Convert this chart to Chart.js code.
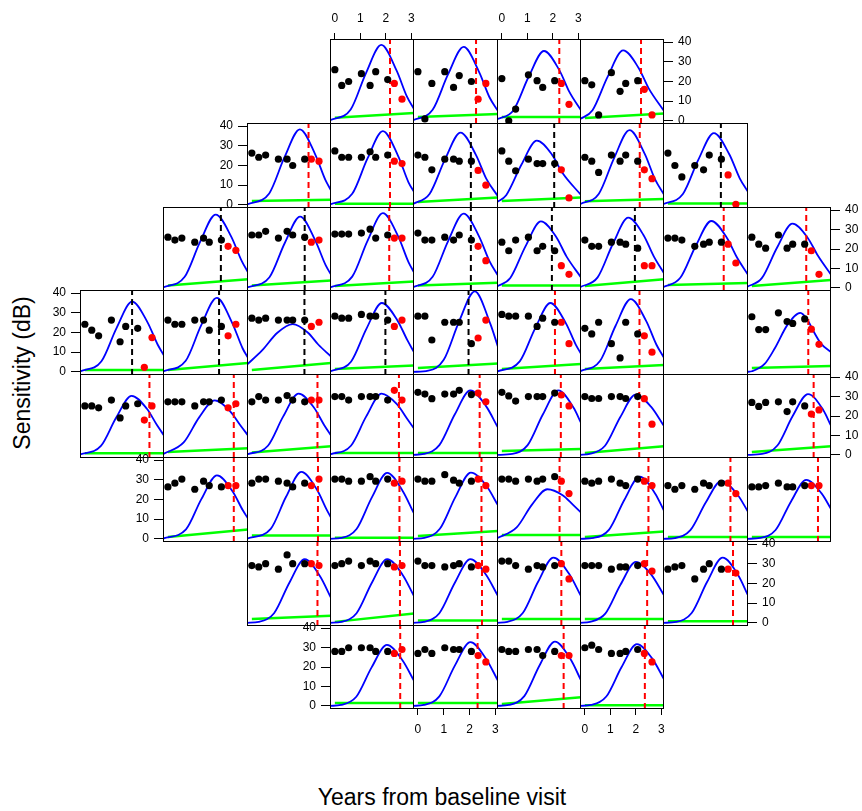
<!DOCTYPE html>
<html>
<head>
<meta charset="utf-8">
<script src="https://cdn.jsdelivr.net/npm/chart.js@4.4.1/dist/chart.umd.min.js"></script>
<style>
  html, body { margin: 0; padding: 0; background: #fff; }
  #wrap { position: relative; width: 862px; height: 811px; overflow: hidden; font-family: "Liberation Sans", Arial, Helvetica, sans-serif; }
  #wrap canvas { position: absolute; }
  .title { position: absolute; font-size: 23px; color: #000; white-space: nowrap; }
  #ylab { left: 22px; top: 373px; transform: translate(-50%, -50%) rotate(-90deg); }
  #xlab { left: 442px; top: 797px; transform: translate(-50%, -50%); }
</style>
</head>
<body>
<div id="wrap">
  <div class="title" id="ylab">Sensitivity (dB)</div>
  <div class="title" id="xlab">Years from baseline visit</div>
</div>
<script>
// visit times (years) - first 7 visits are fitted (black), last 2 held out (red)
const visitYears = [0, 0.27, 0.54, 1.04, 1.38, 1.6, 2.07, 2.33, 2.63];
const xTicks = [0, 1, 2, 3];
const yTicks = [0, 10, 20, 30, 40];

// 24-2 field: filled columns per row
const gridRows = [
    [3, 4, 5, 6],
    [2, 3, 4, 5, 6, 7],
    [1, 2, 3, 4, 5, 6, 7, 8],
    [0, 1, 2, 3, 4, 5, 6, 8],
    [0, 1, 2, 3, 4, 5, 6, 8],
    [1, 2, 3, 4, 5, 6, 7, 8],
    [2, 3, 4, 5, 6, 7],
    [3, 4, 5, 6]
];
// blind spot: empty boxes [row, col]
const emptyCells = [[3, 7], [4, 7]];

// black points (dB), one row per location in reading order
const trainDb = [
    [26, 18, 20, 24, 18, 25, 21], [25, 1, 19, 25, 17, 23, 20], [21.5, 0, 6, 23.4, 20.4, 17, 20.4], [20.4, 18.3, 3, 24.5, 15, 19, 20.4],
    [26.3, 24.2, 25.3, 23.2, 23.2, 20, 23.2], [27.4, 24.2, 24.2, 24.2, 27, 24.2, 25.3], [25.3, 24.2, 17.8, 23.2, 23.2, 22.2, 22.2],
    [27.4, 22.2, 17.3, 23.2, 21, 21, 21], [24.2, 22.2, 16.5, 25.3, 22.2, 25.3, 22.2], [26.3, 20, 14.2, 20, 17.8, 25.3, 23.2],
    [26.1, 24.6, 25.6, 23.5, 25.6, 23.5, 24.6], [27.2, 27.2, 29.1, 25.6, 29.1, 27.2, 26.1], [27.7, 27.7, 27.7, 28.2, 30.2, 25.6, 27.2],
    [28.2, 24.6, 24.6, 26.1, 24.6, 27.2, 24.6], [23.5, 19.1, 24.6, 26.1, 19.1, 21.4, 19.1], [24.6, 21.4, 21.4, 23.5, 23.5, 22.5, 20.4],
    [25.6, 25.6, 24.6, 21.4, 22.5, 23.5, 23.5], [26.1, 22.5, 20.4, 27.2, 20.4, 22.5, 22.5],
    [24.2, 21.2, 18.3, 26.3, 15.3, 23.1, 22.1], [26.3, 24.2, 24.2, 26.3, 26.3, 21.2, 23.1], [27.3, 26.3, 27.3, 26.3, 26.3, 26.3, 26.3],
    [28.3, 27.3, 27.3, 29.2, 28.3, 28.3, 26.3], [28.3, 28.3, 16.2, 25.2, 25.2, 25.2, 14.3], [29.2, 28.3, 28.3, 28.3, 23.1, 27.3, 25.2],
    [22.1, 19.3, 25.2, 14.3, 7.1, 25.2, 19.3], [28, 21.5, 21.5, 30, 25.6, 24.6, 26.9],
    [25.2, 25.2, 24.2, 28.2, 19, 25.2, 26.3], [27.3, 27.3, 27.3, 25.2, 27.3, 27.3, 28.2], [27.3, 30, 28.2, 28.2, 30.5, 28.2, 27.3],
    [30, 30, 28.2, 30, 30, 30, 28.2], [32.2, 31.3, 28.9, 31.3, 31.3, 33.2, 31], [32.2, 30.3, 27.7, 30, 30, 30, 31.8],
    [30, 29, 29, 30, 30, 29, 30], [27, 24.9, 27, 27.3, 22.3, 27.3, 25.2],
    [26.4, 28.3, 30.4, 25.2, 29.3, 27.1, 26.4], [28.3, 30.4, 30.4, 29.3, 28.3, 26.4, 28.3], [30.4, 30.4, 29.3, 29.3, 31.6, 29.3, 30.4],
    [30.4, 29.3, 29.3, 32.6, 29.8, 28.3, 29.3], [30.4, 30.4, 29.3, 30.4, 29.3, 30.4, 31.6], [29.3, 28.3, 29.3, 30.4, 28.3, 27.1, 30.4],
    [27.1, 25.2, 27.1, 25.2, 28.3, 27.1, 28.3], [26.4, 26.4, 27.1, 28.3, 26.4, 26.4, 27.1],
    [29.1, 28.4, 30.1, 27.3, 34.5, 30.1, 30.1], [29.1, 30.1, 31.4, 29.1, 31.4, 30.1, 30.1], [31.4, 29.1, 29.1, 28.4, 29.1, 30.1, 28.4],
    [31.4, 31.4, 29.1, 27.3, 29.1, 28.4, 29.1], [29.1, 29.1, 29.1, 27.3, 28.4, 28.4, 29.1], [27.3, 28.4, 29.1, 22.3, 27.3, 30.1, 27.3],
    [28, 28, 29.9, 29.9, 29.9, 28, 28], [27, 29, 27, 29.9, 29, 29, 28], [29, 28, 28, 29, 29, 25.9, 28], [29.9, 31.2, 29, 27, 27, 28, 29]
];

// red points (held-out visits)
const testDb = [
    [19, 11], [11, 19], [19, 8.4], [16, 3],
    [23.2, 22.2], [22.2, 21], [17.5, 10], [17.8, 3.5], [17.8, 13.3], [15.2, 0.3],
    [21.4, 19.3], [23.5, 24.6], [25.6, 25.6], [21.4, 14], [11.4, 7], [11.4, 11.4], [22.5, 12.8], [19.1, 7],
    [2.3, 17.4], [18.3, 24.2], [23.1, 25.2], [23.1, 26.3], [17.2, 26.3], [25.2, 14.3], [18.3, 10], [21.7, 14],
    [17.9, 25.2], [24.2, 26.3], [28.2, 28.2], [33.2, 28.2], [31.8, 27.3], [30.8, 25.2], [28.9, 15.8], [21, 23.1],
    [27.1, 27.1], [27.1, 30.4], [28.3, 29.3], [30.4, 27.1], [29.3, 23], [29.3, 27.1], [28.3, 23], [27.1, 27.1],
    [30.1, 29.1], [28.4, 29.1], [29.1, 27.3], [30.1, 22.3], [30.1, 26.3], [27.3, 25.3],
    [27, 29], [25.9, 22.6], [25.9, 25.9], [27, 22.6]
];

// dashed vertical line (year) and whether it is drawn red (r) or black (k)
const changeYear = [
    2.16, 2.25, 2.25, 2.2,
    2.22, 2.16, 2.05, 2.05, 2.15, 2.05,
    2.05, 2.07, 2.13, 2.05, 1.96, 1.96, 2.16, 2.13,
    1.85, 1.98, 2.06, 1.98, 1.96, 2.08, 2.14, 2.21,
    2.53, 2.55, 2.57, 2.51, 2.39, 2.31, 2.13, 2.42,
    2.55, 2.59, 2.53, 2.46, 2.26, 2.49, 2.42, 2.59,
    2.57, 2.55, 2.48, 2.33, 2.44, 2.52,
    2.56, 2.31, 2.42, 2.35
];
const changeKind = 'rrrr' + 'rrkkrk' + 'kkrkkkrr' + 'kkkkkrrr' + 'rrrrrrrr' + 'rrrrrrrr' + 'rrrrrr' + 'rrrr';

// green line: value at year 0 and at the right edge
const greenDb = [
    [1.6, 4], [2, 3.5], [1.9, 1.9], [1.5, 3.8],
    [2, 2.6], [0.5, 0.5], [1.5, 3.8], [2, 3.7], [1.8, 3], [0.7, 0.7],
    [1.2, 4.4], [1.2, 3.8], [1, 3.3], [1.2, 2.6], [1.2, 1.2], [1, 4.5], [1.5, 2.5], [1, 4],
    [1, 1], [1, 4.5], [1, 4.5], [1.5, 3.2], [2, 4.3], [1.5, 4], [1.5, 3.5], [2, 3],
    [0.8, 0.8], [1.5, 3.4], [1.2, 4.5], [1, 1], [1, 1], [2, 3], [1, 4.5], [1.5, 4.5],
    [1, 4.8], [1.7, 1.7], [0.6, 0.6], [1.5, 4], [2, 2], [1, 3.8], [1, 1], [1, 1],
    [2, 3.6], [0.5, 4.8], [1.2, 1.2], [2, 2], [2, 2], [0.8, 0.8],
    [1.5, 1.5], [1.5, 1.5], [1, 4.5], [0.3, 0.3]
];

// blue curve, [year, dB] pairs
const blueCurves = [
    [[-0.19, 0.3], [0.62, 5.8], [1.22, 24.3], [1.82, 38.6], [2.42, 25.5], [2.82, 12.4], [3.1, 6]],
    [[-0.19, 0.3], [0.57, 5.6], [1.17, 23.7], [1.77, 37.6], [2.37, 24.8], [2.77, 12], [3.1, 5]],
    [[-0.19, 0.8], [0.45, 5.3], [1.05, 22.4], [1.65, 35.5], [2.25, 25.8], [2.65, 14.6], [3.1, 5.4]],
    [[-0.19, 0.9], [0.3, 5.4], [0.9, 22.6], [1.5, 35.8], [2.1, 27], [2.5, 16.5], [3.1, 5]],
    [[-0.19, 0.2], [0.68, 5.8], [1.28, 24.2], [1.88, 38.4], [2.48, 25.7], [2.88, 12.7], [3.1, 7.4]],
    [[-0.19, 0.2], [0.68, 5.6], [1.28, 23.6], [1.88, 37.5], [2.48, 24.8], [2.88, 11.6], [3.1, 6.6]],
    [[-0.19, 0.4], [0.45, 5.5], [1.05, 23.1], [1.65, 36.7], [2.25, 25.3], [2.65, 13.2], [3.1, 4.3]],
    [[-0.19, 1.4], [0.17, 4.9], [0.77, 20.5], [1.37, 32.6], [1.97, 25.4], [2.37, 16.3], [3.1, 5]],
    [[-0.19, 0.3], [0.55, 5.7], [1.15, 23.9], [1.75, 38], [2.35, 25.8], [2.75, 12.9], [3.1, 5.2]],
    [[-0.19, 0.3], [0.58, 5.5], [1.18, 23], [1.78, 36.5], [2.38, 25.6], [2.78, 13.5], [3.1, 6.6]],
    [[-0.19, 0.2], [0.65, 5.7], [1.25, 23.8], [1.85, 37.7], [2.45, 26.4], [2.85, 14], [3.1, 8]],
    [[-0.19, 0.2], [0.69, 5.5], [1.29, 23.1], [1.89, 36.7], [2.49, 24.2], [2.89, 11.7], [3.1, 6.8]],
    [[-0.19, 0.2], [0.68, 5.8], [1.28, 24.2], [1.88, 38.4], [2.48, 26.5], [2.88, 13.4], [3.1, 8]],
    [[-0.19, 0.3], [0.57, 5.7], [1.17, 24.1], [1.77, 38.2], [2.37, 26.4], [2.77, 13.8], [3.1, 6.3]],
    [[-0.19, 0.7], [0.33, 5.1], [0.93, 21.5], [1.53, 34.2], [2.13, 26.2], [2.53, 16.2], [3.1, 5.4]],
    [[-0.19, 0.35], [0.5, 5.4], [1.1, 22.7], [1.7, 36.1], [2.3, 27.1], [2.7, 16.2], [3.1, 7.5]],
    [[-0.19, 0.35], [0.48, 5.2], [1.08, 21.7], [1.68, 34.4], [2.28, 25.8], [2.68, 15.5], [3.1, 6.8]],
    [[-0.19, 0.5], [0.39, 5], [0.99, 20.8], [1.59, 33], [2.19, 25.7], [2.59, 16.5], [3.1, 6.8]],
    [[-0.19, 0.2], [0.65, 5.4], [1.25, 22.5], [1.85, 35.7], [2.45, 25.3], [2.85, 13.9], [3.1, 8.3]],
    [[-0.19, 0.2], [0.69, 5.6], [1.29, 23.7], [1.89, 37.6], [2.49, 24.8], [2.89, 12], [3.1, 7.1]],
    [[-0.19, 3.7], [0.4, 10.9], [1.0, 19.9], [1.6, 24.3], [2.2, 19.9], [2.6, 13.9], [3.1, 7.8]],
    [[-0.19, 0.2], [0.64, 5.3], [1.24, 22], [1.84, 35], [2.44, 26.4], [2.84, 16.1], [3.1, 10]],
    [[-0.19, 0], [0.4, 0.6], [1.0, 6.1], [1.6, 25.8], [2.2, 40.9], [2.8, 24.5], [3.1, 12.7]],
    [[-0.19, 0.15], [0.7, 5.3], [1.3, 22], [1.9, 35], [2.5, 24.9], [2.9, 13.7], [3.1, 9.2]],
    [[-0.19, 0.25], [0.6, 5.6], [1.2, 23.3], [1.8, 37], [2.4, 25.9], [2.8, 13.9], [3.1, 7.1]],
    [[-0.19, 0], [0, 0.3], [0.5, 4], [0.9, 12], [1.4, 24], [1.9, 30], [2.2, 26], [2.4, 21], [2.7, 14.5], [3.1, 10]],
    [[-0.19, 0.2], [0.63, 4.6], [1.23, 19.2], [1.83, 30.4], [2.43, 23.7], [2.83, 15.2], [3.1, 10]],
    [[-0.19, 0.4], [0.61, 6.4], [1.21, 19.3], [1.81, 28], [2.41, 22.4], [2.81, 15.1], [3.1, 10]],
    [[-0.19, 0.2], [0.63, 4.7], [1.23, 19.8], [1.83, 31.5], [2.43, 24.4], [2.83, 15.4], [3.1, 10]],
    [[-0.19, 0.2], [0.63, 4.7], [1.23, 19.8], [1.83, 31.5], [2.43, 26.1], [2.83, 18.6], [3.1, 13.6]],
    [[-0.19, 0], [0.23, 0.5], [0.83, 5], [1.43, 20.9], [2.03, 33.2], [2.63, 25.2], [3.1, 14]],
    [[-0.19, 0], [0.41, 0.5], [1.01, 5], [1.61, 20.9], [2.21, 33.2], [2.81, 24.2], [3.1, 16.5]],
    [[-0.19, 0], [0.19, 0.5], [0.79, 4.7], [1.39, 19.5], [1.99, 31], [2.59, 24.8], [3.1, 14.8]],
    [[-0.19, 0], [0.4, 0.5], [1.0, 4.8], [1.6, 20], [2.2, 31.3], [2.8, 23], [3.1, 15]],
    [[-0.19, 0.15], [0.7, 4.8], [1.3, 20.3], [1.9, 32.3], [2.5, 24.2], [2.9, 14.5], [3.1, 10.3]],
    [[-0.19, 0.1], [0.74, 5.1], [1.34, 21.4], [1.94, 34], [2.54, 25.2], [2.94, 14.6], [3.1, 10.8]],
    [[-0.19, 0], [0.25, 0.5], [0.85, 5], [1.45, 21.1], [2.05, 33.5], [2.65, 24.5], [3.1, 12.9]],
    [[-0.19, 0], [0.25, 0.5], [0.85, 5.1], [1.45, 21.2], [2.05, 33.7], [2.65, 27], [3.1, 17]],
    [[-0.19, 0.3], [0.58, 5.8], [1.18, 17.4], [1.78, 25.2], [2.38, 22.2], [2.78, 17.4], [3.1, 13.3]],
    [[-0.19, 0], [0.35, 0.5], [0.95, 4.7], [1.55, 19.9], [2.15, 31.6], [2.75, 23.1], [3.1, 14.3]],
    [[-0.19, 0], [0.27, 0.4], [0.87, 4.4], [1.47, 18.6], [2.07, 29.5], [2.67, 22.9], [3.1, 13.8]],
    [[-0.19, 0], [0.33, 0.45], [0.93, 4.5], [1.53, 18.9], [2.13, 30], [2.73, 23.1], [3.1, 15.2]],
    [[-0.19, 0], [0.27, 0.5], [0.87, 4.9], [1.47, 20.4], [2.07, 32.4], [2.67, 23.7], [3.1, 12.7]],
    [[-0.19, 0], [0.25, 0.5], [0.85, 4.9], [1.45, 20.4], [2.05, 32.4], [2.65, 24.5], [3.1, 13.6]],
    [[-0.19, 0], [0.23, 0.5], [0.83, 4.9], [1.43, 20.4], [2.03, 32.4], [2.63, 24.6], [3.1, 13.6]],
    [[-0.19, 0], [0.22, 0.5], [0.82, 5], [1.42, 20.9], [2.02, 33.1], [2.62, 25.2], [3.1, 13.6]],
    [[-0.19, 0], [0.2, 0.5], [0.8, 4.7], [1.4, 19.5], [2.0, 31], [2.6, 24.5], [3.1, 14]],
    [[-0.19, 0], [0.32, 0.5], [0.92, 5], [1.52, 20.9], [2.12, 33.1], [2.72, 24.2], [3.1, 14]],
    [[-0.19, 0], [0.24, 0.5], [0.84, 4.7], [1.44, 19.8], [2.04, 31.4], [2.64, 23.6], [3.1, 12.9]],
    [[-0.19, 0], [0.23, 0.5], [0.83, 4.9], [1.43, 20.7], [2.03, 32.8], [2.63, 24.4], [3.1, 12.9]],
    [[-0.19, 0], [0.28, 0.5], [0.88, 5], [1.48, 20.9], [2.08, 33.1], [2.68, 24.2], [3.1, 13.2]],
    [[-0.19, 0], [0.24, 0.5], [0.84, 4.8], [1.44, 20], [2.04, 31.8], [2.64, 24.3], [3.1, 13.7]]
];

// panel geometry
const X_MIN = -0.19, X_MAX = 3.1, Y_MIN = -1.6, Y_MAX = 41.6;
const Y_AXIS_W = 34, X_AXIS_H = 30, EDGE = 8;
const FONT = { family: '"Liberation Sans", Arial, Helvetica, sans-serif', size: 12 };
const colLeft = c => Math.round(80 + c * 83.33);
const rowTop = r => Math.round(39.3 + r * 83.63);

// draws the box around each panel
const framePlugin = {
    id: 'frame',
    afterDraw(chart) {
        const a = chart.chartArea, ctx = chart.ctx;
        ctx.save();
        ctx.strokeStyle = '#000';
        ctx.lineWidth = 1;
        ctx.strokeRect(a.left + 0.5, a.top + 0.5, a.right - a.left - 1, a.bottom - a.top - 1);
        ctx.restore();
    }
};

function axisOptions(isX, side) {
    const opts = {
        type: 'linear',
        min: isX ? X_MIN : Y_MIN,
        max: isX ? X_MAX : Y_MAX,
        position: side || (isX ? 'bottom' : 'left'),
        display: !!side
    };
    if (side) {
        Object.assign(opts, {
            grid: { display: true, drawOnChartArea: false, drawTicks: true, tickLength: isX ? 6 : 9, color: '#000', tickColor: '#000', lineWidth: 1 },
            border: { display: false },
            ticks: { color: '#000', font: FONT, padding: isX ? 7 : 5, maxRotation: 0, autoSkip: false },
            afterBuildTicks: axis => { axis.ticks = (isX ? xTicks : yTicks).map(v => ({ value: v })); },
            afterFit: axis => {
                if (isX) axis.height = X_AXIS_H; else axis.width = Y_AXIS_W;
                axis.paddingLeft = axis.paddingRight = axis.paddingTop = axis.paddingBottom = 0;
            }
        });
    }
    return opts;
}

// canvas covers the panel plus its axis strip plus a small margin so labels are not clipped
function makeCanvas(row, col, ySide, xSide) {
    const L = colLeft(col), R = colLeft(col + 1), T = rowTop(row), B = rowTop(row + 1);
    const padL = (ySide === 'left' ? Y_AXIS_W : 0) + EDGE, padR = (ySide === 'right' ? Y_AXIS_W : 0) + EDGE;
    const padT = (xSide === 'top' ? X_AXIS_H : 0) + EDGE, padB = (xSide === 'bottom' ? X_AXIS_H : 0) + EDGE;
    const canvas = document.createElement('canvas');
    canvas.width = R - L + 1 + padL + padR;
    canvas.height = B - T + 1 + padT + padB;
    canvas.style.left = (L - padL) + 'px';
    canvas.style.top = (T - padT) + 'px';
    document.getElementById('wrap').appendChild(canvas);
    return canvas;
}

const baseOptions = (xSide, ySide) => ({
    responsive: false,
    animation: false,
    devicePixelRatio: 1,
    layout: { padding: EDGE, autoPadding: false },
    plugins: { legend: { display: false }, tooltip: { enabled: false } },
    events: [],
    scales: { x: axisOptions(true, xSide), y: axisOptions(false, ySide) }
});

function drawPanel(idx, row, col, ySide, xSide) {
    const canvas = makeCanvas(row, col, ySide, xSide);
    const black = trainDb[idx].map((v, i) => ({ x: visitYears[i], y: v }));
    const red = testDb[idx].map((v, i) => ({ x: visitYears[7 + i], y: v }));
    const cutColor = changeKind[idx] === 'k' ? '#000000' : '#ff0000';

    new Chart(canvas, {
        type: 'scatter',
        data: {
            datasets: [
                { data: black, backgroundColor: '#000', pointRadius: 3.6, pointBorderWidth: 0, order: 0 },
                { data: red, backgroundColor: '#ff0000', pointRadius: 3.6, pointBorderWidth: 0, order: 0 },
                { data: [{ x: changeYear[idx], y: Y_MIN }, { x: changeYear[idx], y: Y_MAX }], showLine: true, pointRadius: 0,
                  borderColor: cutColor, borderWidth: 2, borderDash: [6, 4], order: 1 },
                { data: blueCurves[idx].map(p => ({ x: p[0], y: p[1] })), showLine: true, pointRadius: 0,
                  borderColor: '#0000ff', borderWidth: 1.8, cubicInterpolationMode: 'monotone', order: 2 },
                { data: [{ x: 0, y: greenDb[idx][0] }, { x: X_MAX, y: greenDb[idx][1] }], showLine: true, pointRadius: 0,
                  borderColor: '#00ff00', borderWidth: 2.5, order: 3 }
            ]
        },
        options: baseOptions(xSide, ySide),
        plugins: [framePlugin]
    });
}

let idx = 0;
gridRows.forEach((cols, row) => {
    cols.forEach((col, k) => {
        // y labels alternate: right side on even rows, left on odd rows
        let ySide = null;
        if (row % 2 === 0 && k === cols.length - 1) ySide = 'right';
        if (row % 2 === 1 && k === 0) ySide = 'left';
        let xSide = null;
        if (row === 0 && (col === 3 || col === 5)) xSide = 'top';
        if (row === gridRows.length - 1 && (col === 4 || col === 6)) xSide = 'bottom';
        drawPanel(idx, row, col, ySide, xSide);
        idx++;
    });
});

// empty boxes at the blind spot
emptyCells.forEach(([row, col]) => {
    new Chart(makeCanvas(row, col, null, null), {
        type: 'scatter',
        data: { datasets: [] },
        options: baseOptions(null, null),
        plugins: [framePlugin]
    });
});
</script>
</body>
</html>
